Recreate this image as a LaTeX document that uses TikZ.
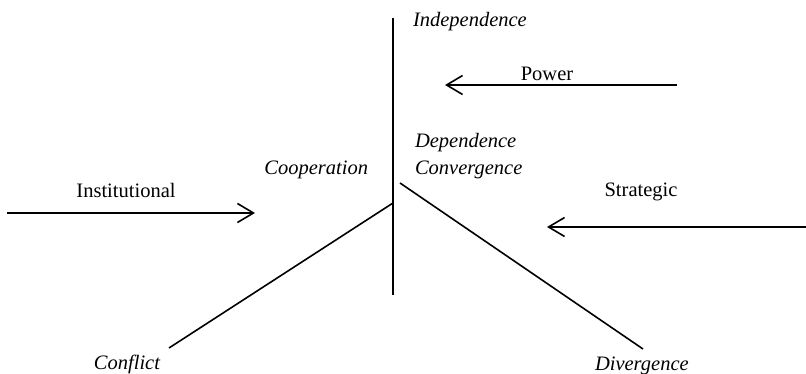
\documentclass[tikz,border=0pt]{standalone}
\usepackage{fontspec}
\setmainfont{Liberation Serif}
\usetikzlibrary{arrows.meta}
\begin{document}
\begin{tikzpicture}[x=1pt,y=-1pt,
  lbl/.style={font=\fontsize{20.5}{24}\selectfont, inner sep=0pt, outer sep=0pt},
  term/.style={font=\fontsize{20.5}{24}\selectfont\itshape, inner sep=0pt, outer sep=0pt},
  axisline/.style={line width=1.6pt},
  force/.style={line width=1.6pt, -{Straight Barb[length=16pt,width=19pt]}}]
\useasboundingbox (0,0) rectangle (806,374);

% vertical axis: independence at the top, dependence below
\coordinate (axtop) at (393,18);
\coordinate (axbot) at (393,295);
\draw[axisline] (axtop) -- (axbot);

% branches towards conflict and divergence
\coordinate (lstart) at (393,203);
\coordinate (lend)   at (169,348);
\coordinate (rstart) at (400,183);
\coordinate (rend)   at (643,349);
\draw[axisline] (lstart) -- (lend);
\draw[axisline] (rstart) -- (rend);

% labels on the figure
\node[term, anchor=base west] (indep) at (413,27)  {Independence};
\node[term, anchor=base west] (dep)   at (415,148) {Dependence};
\node[term, anchor=base west] (conv)  at (415,175) {Convergence};
\node[term, anchor=base east] (coop)  at (368,175) {Cooperation};
\node[term, anchor=base east] (confl) at (160,369) {Conflict};
\node[term, anchor=base west] (diverg) at (595,370) {Divergence};

% the three approaches and their arrows
\node[lbl, anchor=base] (power) at (547,81)  {Power};
\node[lbl, anchor=base] (inst)  at (126,198) {Institutional};
\node[lbl, anchor=base] (strat) at (641,197) {Strategic};

\coordinate (pfrom) at (677,85);
\coordinate (pto)   at (445,85);
\coordinate (ifrom) at (7,213);
\coordinate (ito)   at (255,213);
\coordinate (sfrom) at (806,227);
\coordinate (sto)   at (547,227);
\draw[force] (pfrom) -- (pto);
\draw[force] (ifrom) -- (ito);
\draw[force] (sfrom) -- (sto);
\end{tikzpicture}
\end{document}
